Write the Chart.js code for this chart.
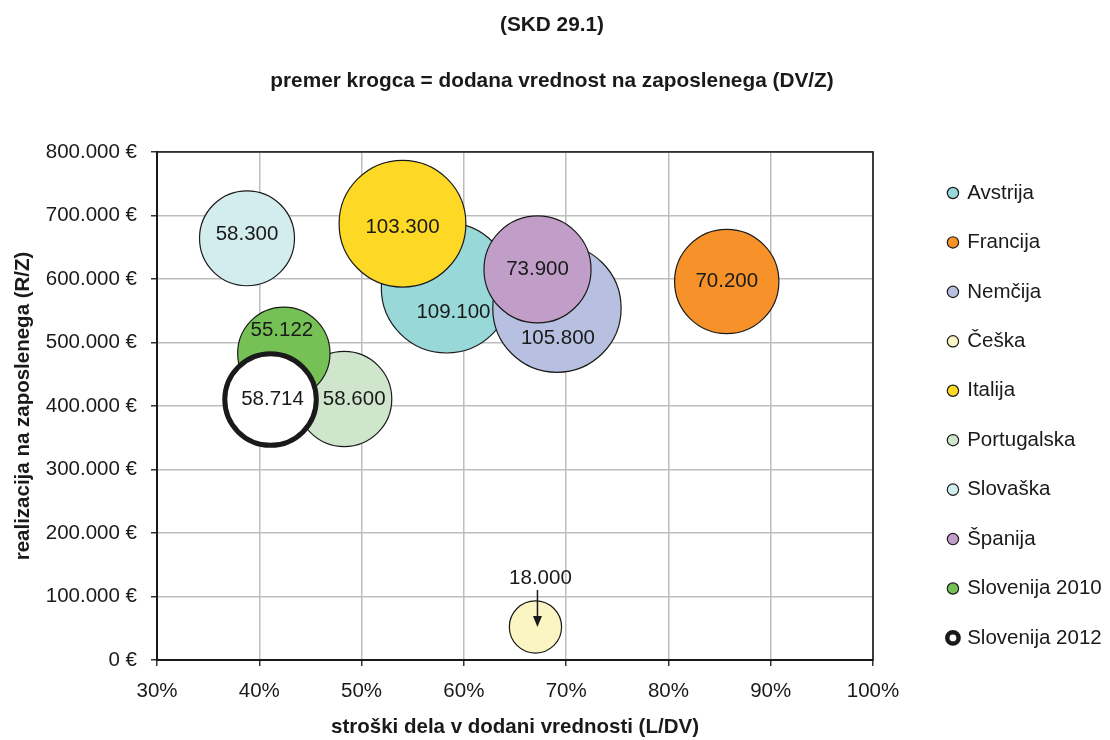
<!DOCTYPE html>
<html>
<head>
<meta charset="utf-8">
<script src="https://cdn.jsdelivr.net/npm/chart.js@4.4.0/dist/chart.umd.min.js"></script>
<style>
  html, body { margin: 0; padding: 0; background: #fff; }
</style>
</head>
<body>
<canvas id="chart" width="1110" height="740"></canvas>
<script>
// One bubble per country
const countries = ['Avstrija', 'Francija', 'Nemčija', 'Češka', 'Italija', 'Portugalska', 'Slovaška', 'Španija', 'Slovenija 2010', 'Slovenija 2012'];
// x: labour costs in value added (L/DV), in %
const laborShare = [58.3, 85.7, 69.1, 67.0, 54.0, 48.3, 38.8, 67.2, 42.4, 41.1];
// y: revenue per employee (R/Z), EUR
const revenuePerEmployee = [586000, 596000, 554000, 52000, 687000, 411000, 664000, 615000, 483000, 410000];
// bubble size: value added per employee (DV/Z), EUR
const valueAdded = [109100, 70200, 105800, 18000, 103300, 58600, 58300, 73900, 55122, 58714];

// tick labels
const xTickValues = [30, 40, 50, 60, 70, 80, 90, 100];
const yTickValues = [0, 100000, 200000, 300000, 400000, 500000, 600000, 700000, 800000];

// styling
const fillColors = ['#99d8d8', '#f7922a', '#b7c0e0', '#fbf4c3', '#fdd824', '#cfe6cc', '#d3ecee', '#c09ec8', '#76c155', '#ffffff'];
const lineWidths = [1.2, 1.2, 1.2, 1.2, 1.2, 1.2, 1.2, 1.2, 1.2, 5];
// label nudges (px) where Excel's labels were moved off the centre
const labelShift = [[7, 25], [0, 0], [1, 30], [5, -49], [0, 4], [10, 0], [0, -4], [0, 0], [-2, -23], [2, 0]];
const labelArrow = [false, false, false, true, false, false, false, false, false, false];

const FONT = "'Liberation Sans', Arial, sans-serif";
const INK = '#1a1a1a';
const TEXT_SIZE = 20.5;
// Excel bubble area is proportional to size
const BUBBLE_SCALE = 64 / Math.sqrt(103300);

function thousands(v) {
    return String(Math.round(v)).replace(/\B(?=(\d{3})+(?!\d))/g, '.');
}

const datasets = countries.map((name, i) => ({
    label: name,
    data: [{
        x: laborShare[i],
        y: revenuePerEmployee[i],
        r: BUBBLE_SCALE * Math.sqrt(valueAdded[i]) - lineWidths[i] / 2
    }],
    backgroundColor: fillColors[i],
    borderColor: INK,
    borderWidth: lineWidths[i],
    hoverBorderWidth: lineWidths[i],
    order: countries.length - i   // later series drawn on top, like Excel
}));

// black frame round the plot area
const plotFrame = {
    id: 'plotFrame',
    beforeDatasetsDraw(chart) {
        const { ctx, chartArea: a } = chart;
        ctx.save();
        ctx.strokeStyle = INK;
        ctx.lineWidth = 1.6;
        ctx.strokeRect(a.left, a.top, a.right - a.left, a.bottom - a.top);
        ctx.restore();
    }
};

// value labels inside the bubbles
const bubbleLabels = {
    id: 'bubbleLabels',
    afterDatasetsDraw(chart) {
        const ctx = chart.ctx;
        ctx.save();
        ctx.font = TEXT_SIZE + 'px ' + FONT;
        ctx.fillStyle = INK;
        ctx.strokeStyle = INK;
        ctx.textAlign = 'center';
        ctx.textBaseline = 'middle';
        chart.data.datasets.forEach((ds, i) => {
            const el = chart.getDatasetMeta(i).data[0];
            const tx = el.x + labelShift[i][0];
            const ty = el.y + labelShift[i][1];
            ctx.fillText(thousands(valueAdded[i]), tx, ty);
            if (labelArrow[i]) {
                const x0 = tx - 3, y0 = ty + 12;
                const x1 = el.x + 2, y1 = el.y;
                ctx.lineWidth = 1.5;
                ctx.beginPath();
                ctx.moveTo(x0, y0);
                ctx.lineTo(x1, y1 - 8);
                ctx.stroke();
                ctx.beginPath();
                ctx.moveTo(x1, y1);
                ctx.lineTo(x1 - 4.5, y1 - 11);
                ctx.lineTo(x1 + 4.5, y1 - 11);
                ctx.closePath();
                ctx.fill();
            }
        });
        ctx.restore();
    }
};

const ctx = document.getElementById('chart').getContext('2d');
const myChart = new Chart(ctx, {
    type: 'bubble',
    data: { datasets: datasets },
    plugins: [plotFrame, bubbleLabels],
    options: {
        responsive: false,
        animation: false,
        events: [],
        layout: { padding: { right: 6 } },
        scales: {
            x: {
                type: 'linear',
                min: 30,
                max: 100,
                afterBuildTicks(scale) { scale.ticks = xTickValues.map(v => ({ value: v })); },
                ticks: {
                    callback: v => v + '%',
                    color: INK,
                    font: { family: FONT, size: TEXT_SIZE },
                    padding: 13,
                    maxRotation: 0
                },
                grid: { color: '#bdbdbd', lineWidth: 1.5, tickColor: '#333', tickLength: 6 },
                border: { color: INK, width: 2 },
                title: {
                    display: true,
                    text: 'stroški dela v dodani vrednosti (L/DV)',
                    color: INK,
                    font: { family: FONT, size: 20.5, weight: 'bold' },
                    padding: { top: 0, bottom: 0 }
                },
                afterFit(scale) { scale.height = 80; }
            },
            y: {
                type: 'linear',
                min: 0,
                max: 800000,
                afterBuildTicks(scale) { scale.ticks = yTickValues.map(v => ({ value: v })); },
                ticks: {
                    callback: v => thousands(v) + ' €',
                    color: INK,
                    font: { family: FONT, size: TEXT_SIZE },
                    padding: 14
                },
                grid: { color: '#bdbdbd', lineWidth: 1.5, tickColor: '#333', tickLength: 6 },
                border: { color: INK, width: 2 },
                title: {
                    display: true,
                    text: 'realizacija na zaposlenega (R/Z)',
                    color: INK,
                    font: { family: FONT, size: 20.5, weight: 'bold' },
                    padding: { top: 11, bottom: 0 }
                },
                afterFit(scale) { scale.width = 157; }
            },
            // empty spacer between plot and legend
            gap: {
                type: 'linear',
                position: 'right',
                display: true,
                grid: { display: false, drawTicks: false },
                border: { display: false },
                ticks: { display: false },
                afterFit(scale) { scale.width = 47; }
            }
        },
        plugins: {
            title: {
                display: true,
                text: '(SKD 29.1)',
                color: INK,
                font: { family: FONT, size: 20.8, weight: 'bold' },
                padding: { top: 13, bottom: 31 }
            },
            subtitle: {
                display: true,
                text: 'premer krogca = dodana vrednost na zaposlenega (DV/Z)',
                color: INK,
                font: { family: FONT, size: 20.8, weight: 'bold' },
                padding: { top: 0, bottom: 58 }
            },
            legend: {
                position: 'right',
                align: 'start',
                // blank title only pushes the entries down to the plot's level
                title: { display: true, text: ' ', font: { size: 10 }, padding: { top: 141.8, bottom: 0 } },
                labels: {
                    usePointStyle: true,
                    pointStyle: 'circle',
                    boxWidth: 8,
                    boxHeight: 8,
                    padding: 28.94,
                    color: INK,
                    font: { family: FONT, size: TEXT_SIZE },
                    sort: (a, b) => a.datasetIndex - b.datasetIndex,
                    generateLabels(chart) {
                        const items = Chart.defaults.plugins.legend.labels.generateLabels(chart);
                        items.forEach(it => { if (it.lineWidth > 2) it.lineWidth = 4.5; });
                        return items;
                    }
                }
            },
            tooltip: { enabled: false }
        }
    }
});
</script>
</body>
</html>
